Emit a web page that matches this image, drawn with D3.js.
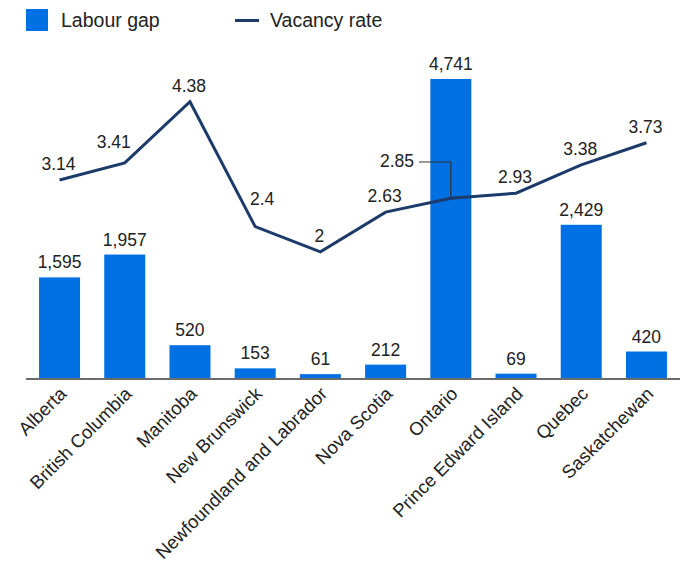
<!DOCTYPE html>
<html>
<head>
<meta charset="utf-8">
<script src="https://cdn.jsdelivr.net/npm/d3@7"></script>
<style>
  html, body { margin: 0; padding: 0; background: #fff; }
  svg { display: block; font-family: "Liberation Sans", Arial, sans-serif; }
</style>
</head>
<body>
<svg id="chart" width="685" height="563"></svg>
<script>
// ---- data ----
const provinces = ["Alberta", "British Columbia", "Manitoba", "New Brunswick",
  "Newfoundland and Labrador", "Nova Scotia", "Ontario", "Prince Edward Island",
  "Quebec", "Saskatchewan"];
const labourGap = [1595, 1957, 520, 153, 61, 212, 4741, 69, 2429, 420];
const vacancyRate = [3.14, 3.41, 4.38, 2.4, 2, 2.63, 2.85, 2.93, 3.38, 3.73];
const seriesNames = ["Labour gap", "Vacancy rate"];

// ---- layout / style (not data) ----
const colors = { bar: "#0070e2", line: "#1c3a6a", text: "#222", axis: "#6b6b6b" };
const labelNudge = { "British Columbia": [-10, -5], "New Brunswick": [8, -12] };
const callout = { "Ontario": { textX: 414, textY: 167 } };

const svg = d3.select("#chart");

const x = d3.scaleBand()
  .domain(provinces)
  .range([26, 680])
  .paddingInner(0.371)
  .paddingOuter(0.2);

const yBar = d3.scaleLinear().domain([0, 5000]).range([378, 62.6]);
const yLine = d3.scaleLinear().domain([0, 5]).range([378, 62.6]);

const rows = provinces.map((p, i) => ({ p, gap: labourGap[i], rate: vacancyRate[i] }));

// bars
svg.append("g").selectAll("rect").data(rows).join("rect")
  .attr("x", d => x(d.p))
  .attr("y", d => yBar(d.gap))
  .attr("width", x.bandwidth())
  .attr("height", d => yBar(0) - yBar(d.gap))
  .attr("fill", colors.bar);

// bar labels
svg.append("g").selectAll("text").data(rows).join("text")
  .attr("x", d => x(d.p) + x.bandwidth() / 2)
  .attr("y", d => yBar(d.gap) - 9)
  .attr("text-anchor", "middle")
  .attr("font-size", 17.5)
  .attr("fill", colors.text)
  .text(d => d3.format(",")(d.gap));

// axis baseline
svg.append("line")
  .attr("x1", 26).attr("x2", 680)
  .attr("y1", yBar(0) + 1).attr("y2", yBar(0) + 1)
  .attr("stroke", colors.axis).attr("stroke-width", 2);

// x labels
svg.append("g").selectAll("text").data(provinces).join("text")
  .attr("transform", d => `translate(${x(d) + x.bandwidth() / 2 + 8},395) rotate(-45)`)
  .attr("text-anchor", "end")
  .attr("font-size", 18.5)
  .attr("fill", colors.text)
  .text(d => d);

// line
const cx = d => x(d.p) + x.bandwidth() / 2;
svg.append("path")
  .datum(rows)
  .attr("fill", "none")
  .attr("stroke", colors.line)
  .attr("stroke-width", 3)
  .attr("stroke-linejoin", "miter")
  .attr("d", d3.line().x(cx).y(d => yLine(d.rate)));

// line labels
rows.forEach(d => {
  const px = cx(d), py = yLine(d.rate);
  const label = String(d.rate);
  if (callout[d.p]) {
    const c = callout[d.p];
    svg.append("path")
      .attr("d", `M${c.textX + 5},${c.textY - 5}H${px}V${py - 1.5}`)
      .attr("fill", "none").attr("stroke", "#333").attr("stroke-width", 1.2);
    svg.append("text")
      .attr("x", c.textX).attr("y", c.textY)
      .attr("text-anchor", "end").attr("font-size", 17.5).attr("fill", colors.text)
      .text(label);
  } else {
    const n = labelNudge[d.p] || [0, 0];
    svg.append("text")
      .attr("x", px - 1 + n[0]).attr("y", py - 10 + n[1])
      .attr("text-anchor", "middle").attr("font-size", 17.5).attr("fill", colors.text)
      .text(label);
  }
});

// legend
const lg = svg.append("g");
lg.append("rect").attr("x", 26).attr("y", 9).attr("width", 22).attr("height", 22).attr("fill", colors.bar);
lg.append("text").attr("x", 61).attr("y", 27).attr("font-size", 19.5).attr("fill", colors.text).text(seriesNames[0]);
lg.append("line").attr("x1", 235).attr("x2", 259).attr("y1", 20.5).attr("y2", 20.5)
  .attr("stroke", colors.line).attr("stroke-width", 3);
lg.append("text").attr("x", 270).attr("y", 27).attr("font-size", 19.5).attr("fill", colors.text).text(seriesNames[1]);
</script>
</body>
</html>
